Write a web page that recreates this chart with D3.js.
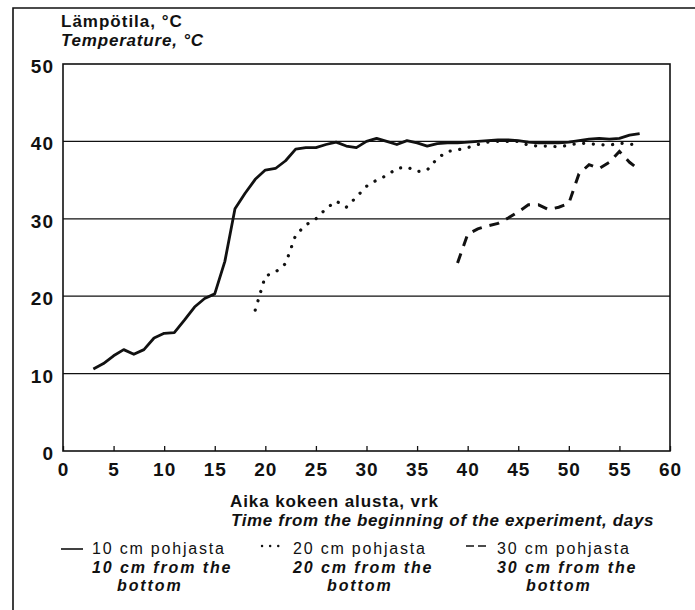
<!DOCTYPE html>
<html>
<head>
<meta charset="utf-8">
<script src="https://cdn.jsdelivr.net/npm/d3@7"></script>
<style>
  body { margin: 0; background: #fff; }
  svg { display: block; }
  text { font-family: "Liberation Sans", Arial, sans-serif; fill: #111; }
</style>
</head>
<body>
<div id="chart"></div>
<script>
// temperature readings [day, °C]
const temp10cm = [
  [3, 10.6], [4, 11.3], [5, 12.3], [6, 13.1], [7, 12.5], [8, 13.1], [9, 14.6], [10, 15.2],
  [11, 15.3], [12, 16.9], [13, 18.6], [14, 19.7], [15, 20.3], [16, 24.5], [17, 31.3], [18, 33.3],
  [19, 35.1], [20, 36.3], [21, 36.5], [22, 37.5], [23, 39.0], [24, 39.2], [25, 39.2], [26, 39.6],
  [27, 39.9], [28, 39.4], [29, 39.2], [30, 40.0], [31, 40.4], [32, 40.0], [33, 39.6], [34, 40.1],
  [35, 39.8], [36, 39.4], [37, 39.7], [38, 39.8], [39, 39.8], [40, 39.9], [41, 40.0], [42, 40.1],
  [43, 40.2], [44, 40.2], [45, 40.1], [46, 39.9], [47, 39.8], [48, 39.8], [49, 39.8], [50, 39.9],
  [51, 40.1], [52, 40.3], [53, 40.4], [54, 40.3], [55, 40.4], [56, 40.8], [57, 41.0]
];
const temp20cm = [
  [19, 18.2], [20, 22.6], [21, 23.1], [22, 24.2], [23, 27.9], [24, 29.2], [25, 30.0], [26, 31.3],
  [27, 32.3], [28, 31.5], [29, 32.8], [30, 34.2], [31, 35.0], [32, 35.6], [33, 36.5], [34, 36.7],
  [35, 36.1], [36, 36.3], [37, 37.8], [38, 38.7], [39, 38.9], [40, 39.2], [41, 39.6], [42, 39.9],
  [43, 40.0], [44, 40.0], [45, 40.0], [46, 39.5], [47, 39.4], [48, 39.4], [49, 39.3], [50, 39.5],
  [51, 39.8], [52, 39.7], [53, 39.6], [54, 39.5], [55, 39.8], [56, 39.6], [57, 39.7]
];
const temp30cm = [
  [39, 24.3], [40, 28.0], [41, 28.7], [42, 29.1], [43, 29.4], [44, 30.1], [45, 30.9], [46, 31.8],
  [47, 31.8], [48, 31.2], [49, 31.5], [50, 32.0], [51, 35.8], [52, 37.0], [53, 36.5], [54, 37.3],
  [55, 38.7], [56, 37.3], [57, 36.3]
];

const xTicks = [0, 5, 10, 15, 20, 25, 30, 35, 40, 45, 50, 55, 60];
const yTicks = [0, 10, 20, 30, 40, 50];
const gridValues = [10, 20, 30, 40];

const legendItems = [
  { fi: '10 cm pohjasta', en: '10 cm from the', en2: 'bottom', style: 'solid' },
  { fi: '20 cm pohjasta', en: '20 cm from the', en2: 'bottom', style: 'dotted' },
  { fi: '30 cm pohjasta', en: '30 cm from the', en2: 'bottom', style: 'dashed' }
];

const width = 695, height = 610;
const svg = d3.select('#chart').append('svg')
  .attr('width', width)
  .attr('height', height);

const x = d3.scaleLinear().domain([0, 60]).range([63, 670]);
const y = d3.scaleLinear().domain([0, 50]).range([451, 64]);

// outer frame (left and top only)
svg.append('path')
  .attr('d', `M13,${height} V8 H${width}`)
  .attr('fill', 'none')
  .attr('stroke', '#111')
  .attr('stroke-width', 1.6);

// y axis title
svg.append('text').attr('x', 61).attr('y', 27)
  .style('font-size', '17px').style('font-weight', 'bold')
  .style('letter-spacing', '1px')
  .text('Lämpötila, °C');
svg.append('text').attr('x', 61).attr('y', 46)
  .style('font-size', '17px').style('font-weight', 'bold').style('font-style', 'italic')
  .style('letter-spacing', '0.8px')
  .text('Temperature, °C');

// gridlines
svg.append('g').selectAll('line')
  .data(gridValues)
  .enter().append('line')
  .attr('x1', x(0)).attr('x2', x(60))
  .attr('y1', d => y(d)).attr('y2', d => y(d))
  .attr('stroke', '#111')
  .attr('stroke-width', 1.2);

// plot box
svg.append('rect')
  .attr('x', x(0)).attr('y', y(50))
  .attr('width', x(60) - x(0)).attr('height', y(0) - y(50))
  .attr('fill', 'none')
  .attr('stroke', '#111')
  .attr('stroke-width', 1.6);

// x axis, ticks pointing inward
const xAxis = svg.append('g')
  .attr('transform', `translate(0,${y(0)})`)
  .call(d3.axisBottom(x).tickValues(xTicks).tickSizeInner(-5).tickSizeOuter(0).tickPadding(12));
xAxis.select('.domain').remove();
xAxis.selectAll('line').attr('stroke', '#111').attr('stroke-width', 1.3);
xAxis.selectAll('text')
  .attr('fill', '#111')
  .style('font-size', '19px').style('font-weight', 'bold')
  .style('letter-spacing', '1px')
  .style('font-family', '"Liberation Sans", Arial, sans-serif');

// y axis labels
const yAxis = svg.append('g')
  .attr('transform', `translate(${x(0)},0)`)
  .call(d3.axisLeft(y).tickValues(yTicks).tickSize(0).tickPadding(9));
yAxis.select('.domain').remove();
yAxis.selectAll('text')
  .attr('fill', '#111')
  .attr('dy', '0.45em')
  .style('font-size', '19px').style('font-weight', 'bold')
  .style('letter-spacing', '1px')
  .style('font-family', '"Liberation Sans", Arial, sans-serif');

// x axis title
svg.append('text').attr('x', 230).attr('y', 507)
  .style('font-size', '17px').style('font-weight', 'bold')
  .style('letter-spacing', '0.9px')
  .text('Aika kokeen alusta, vrk');
svg.append('text').attr('x', 231).attr('y', 526)
  .style('font-size', '17px').style('font-weight', 'bold').style('font-style', 'italic')
  .style('letter-spacing', '0.65px')
  .text('Time from the beginning of the experiment, days');

// series
const line = d3.line().x(d => x(d[0])).y(d => y(d[1]));

svg.append('path').datum(temp10cm)
  .attr('d', line)
  .attr('fill', 'none')
  .attr('stroke', '#111')
  .attr('stroke-width', 2.8)
  .attr('stroke-linejoin', 'round');

svg.append('path').datum(temp20cm)
  .attr('d', line)
  .attr('fill', 'none')
  .attr('stroke', '#111')
  .attr('stroke-width', 3.2)
  .attr('stroke-linecap', 'round')
  .attr('stroke-dasharray', '0.1 9.6');

svg.append('path').datum(temp30cm)
  .attr('d', line)
  .attr('fill', 'none')
  .attr('stroke', '#111')
  .attr('stroke-width', 3)
  .attr('stroke-dasharray', '10 8');

// legend
const legendX = [61, 262, 466];
const bottomOffset = [25, 34, 29];
const legend = svg.append('g').selectAll('g')
  .data(legendItems)
  .enter().append('g')
  .attr('transform', (d, i) => `translate(${legendX[i]},0)`);

legend.append('line')
  .attr('x1', 0).attr('x2', d => d.style === 'solid' ? 22 : 20)
  .attr('y1', d => d.style === 'solid' ? 549 : 546)
  .attr('y2', d => d.style === 'solid' ? 549 : 546)
  .attr('stroke', '#111')
  .attr('stroke-width', d => d.style === 'dotted' ? 2.4 : 1.6)
  .attr('stroke-linecap', d => d.style === 'dotted' ? 'round' : 'butt')
  .attr('stroke-dasharray', d => d.style === 'dotted' ? '0.1 8' : d.style === 'dashed' ? '8 4' : null);

legend.append('text')
  .attr('x', 31).attr('y', 554)
  .style('font-size', '16px')
  .style('letter-spacing', '1.8px')
  .text(d => d.fi);
legend.append('text')
  .attr('x', 31).attr('y', 572.5)
  .style('font-size', '16px').style('font-weight', 'bold').style('font-style', 'italic')
  .style('letter-spacing', '1.9px')
  .text(d => d.en);
legend.append('text')
  .attr('x', (d, i) => 31 + bottomOffset[i]).attr('y', 591)
  .style('font-size', '16px').style('font-weight', 'bold').style('font-style', 'italic')
  .style('letter-spacing', '1.9px')
  .text(d => d.en2);
</script>
</body>
</html>
